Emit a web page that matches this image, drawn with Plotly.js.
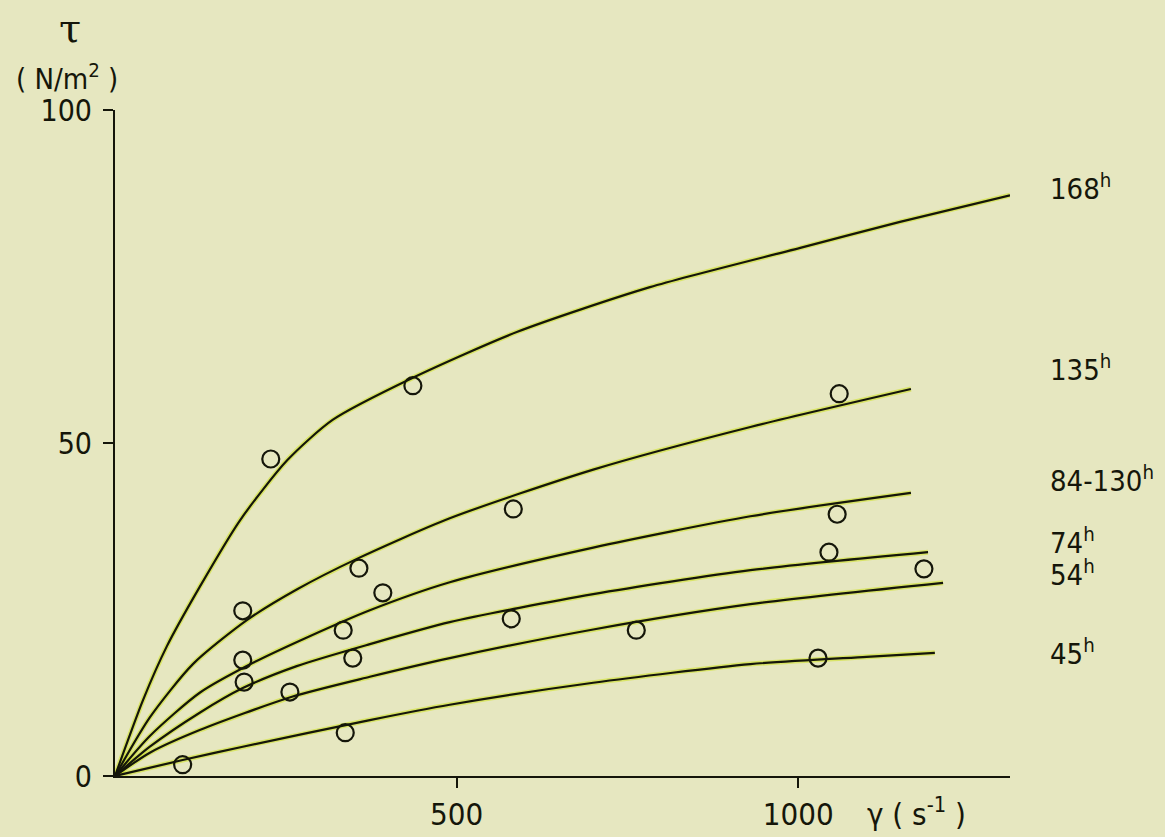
<!DOCTYPE html>
<html>
<head>
<meta charset="utf-8">
<script src="https://cdn.plot.ly/plotly-3.0.1.min.js"></script>
<style>
  html, body { margin: 0; padding: 0; background: #e6e7c0; }
  #chart { width: 1165px; height: 837px; }
</style>
</head>
<body>
<div id="chart"></div>
<script>
// ---- data ----
const seriesNames = ["168", "135", "84-130", "74", "54", "45"];

// fitted curves (shear rate s^-1, shear stress N/m^2)
const curve168x = [0, 41, 76, 124, 183, 252, 319, 436, 589, 783, 1003, 1149, 1310];
const curve168y = [0, 11.4, 19.5, 28.4, 38.4, 47.4, 53.5, 59.8, 66.7, 73.4, 79.3, 83.2, 87.2];
const curve135x = [0, 51, 114, 193, 266, 354, 490, 700, 930, 1165];
const curve135y = [0, 8.8, 16.8, 23.4, 28.0, 32.6, 38.7, 46.0, 52.4, 58.1];
const curve84x  = [0, 51, 124, 202, 285, 373, 490, 700, 930, 1165];
const curve84y  = [0, 6.0, 12.5, 17.0, 21.0, 24.9, 29.1, 34.3, 39.0, 42.5];
const curve74x  = [0, 51, 124, 187, 266, 373, 490, 700, 930, 1190];
const curve74y  = [0, 4.4, 9.5, 13.2, 16.5, 19.8, 23.1, 27.3, 30.9, 33.6];
const curve54x  = [0, 51, 124, 259, 373, 490, 700, 930, 1212];
const curve54y  = [0, 3.5, 6.9, 11.9, 14.9, 17.7, 22.0, 25.8, 29.0];
const curve45x  = [0, 99, 187, 373, 490, 700, 930, 1100, 1200];
const curve45y  = [0, 2.4, 4.4, 8.4, 10.7, 14.0, 16.8, 17.9, 18.5];

// measured points
const pts168x = [228, 436, 1321];
const pts168y = [47.6, 58.6, 88.0];
const pts135x = [187, 357, 583, 1060];
const pts135y = [24.8, 31.2, 40.1, 57.4];
const pts84x  = [187, 334, 392, 1057];
const pts84y  = [17.4, 21.9, 27.5, 39.3];
const pts74x  = [189, 348, 580, 1045];
const pts74y  = [14.1, 17.7, 23.6, 33.6];
const pts54x  = [256, 763, 1184];
const pts54y  = [12.6, 21.9, 31.1];
const pts45x  = [99, 337, 1029];
const pts45y  = [1.7, 6.5, 17.7];

const xTickVals = [500, 1000];
const xTickText = ["500", "1000"];
const yTickVals = [0, 50, 100];
const yTickText = ["0", "50", "100"];

// ---- drawing ----
const ink = "#15160a";
const glow = "rgba(205,225,30,0.55)";
const FONT = "'Liberation Sans Narrow', 'DejaVu Sans Condensed', 'Roboto Condensed', sans-serif";

const curves = [
  [curve168x, curve168y], [curve135x, curve135y], [curve84x, curve84y],
  [curve74x, curve74y], [curve54x, curve54y], [curve45x, curve45y]
];
const points = [
  [pts168x, pts168y], [pts135x, pts135y], [pts84x, pts84y],
  [pts74x, pts74y], [pts54x, pts54y], [pts45x, pts45y]
];

const traces = [];
curves.forEach((c, i) => {
  traces.push({
    x: c[0], y: c[1], type: "scatter", mode: "lines", hoverinfo: "skip",
    line: { color: glow, width: 5, shape: "spline", smoothing: 0.7 },
    showlegend: false
  });
});
curves.forEach((c, i) => {
  traces.push({
    x: c[0], y: c[1], type: "scatter", mode: "lines", name: seriesNames[i] + " h",
    line: { color: ink, width: 2.2, shape: "spline", smoothing: 0.7 },
    showlegend: false
  });
});
points.forEach((p, i) => {
  traces.push({
    x: p[0], y: p[1], type: "scatter", mode: "markers", name: seriesNames[i] + " h data",
    marker: { symbol: "circle-open", size: 17, color: ink, line: { width: 2.2, color: ink } },
    cliponaxis: false, showlegend: false
  });
});

// label positions (paper coords)
const labelY = [0.884, 0.613, 0.446, 0.353, 0.305, 0.186];
const annotations = seriesNames.map((n, i) => ({
  text: n + "<sup>h</sup>", xref: "paper", yref: "paper",
  x: 1.042, y: labelY[i], xanchor: "left", yanchor: "middle",
  showarrow: false, font: { family: FONT, size: 29, color: ink }
}));
annotations.push({
  text: "γ ( s<sup>-1</sup> )", xref: "paper", yref: "paper",
  x: 0.896, y: -0.054, xanchor: "center", yanchor: "middle",
  showarrow: false, font: { family: FONT, size: 31, color: ink }
});
annotations.push({
  text: "τ", xref: "paper", yref: "paper",
  x: -0.050, y: 1.123, xanchor: "center", yanchor: "middle",
  showarrow: false, font: { family: "'DejaVu Serif', serif", size: 40, color: ink }
});
annotations.push({
  text: "( N/m<sup>2</sup> )", xref: "paper", yref: "paper",
  x: -0.0536, y: 1.05, xanchor: "center", yanchor: "middle",
  showarrow: false, font: { family: FONT, size: 29, color: ink }
});

const layout = {
  width: 1165, height: 837,
  margin: { l: 115, r: 155, t: 110, b: 61 },
  paper_bgcolor: "#e6e7c0",
  plot_bgcolor: "#e6e7c0",
  showlegend: false,
  font: { family: FONT, size: 31, color: ink },
  xaxis: {
    range: [0, 1310], showgrid: false, zeroline: false,
    showline: true, linecolor: ink, linewidth: 2,
    ticks: "outside", ticklen: 10, tickwidth: 2, tickcolor: ink,
    tickvals: xTickVals, ticktext: xTickText, ticklabelstandoff: 0,
    tickfont: { family: FONT, size: 31, color: ink }
  },
  yaxis: {
    range: [0, 100], showgrid: false, zeroline: false,
    showline: true, linecolor: ink, linewidth: 2,
    ticks: "outside", ticklen: 10, tickwidth: 2, tickcolor: ink,
    tickvals: yTickVals, ticktext: yTickText, ticklabelstandoff: 5,
    tickfont: { family: FONT, size: 30, color: ink }
  },
  annotations: annotations
};

Plotly.newPlot("chart", traces, layout, { staticPlot: true, displayModeBar: false });
</script>
</body>
</html>
